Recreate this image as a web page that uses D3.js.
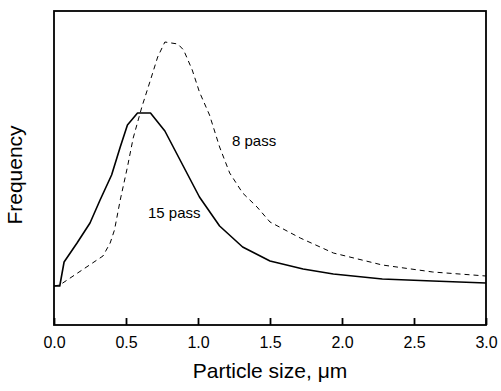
<!DOCTYPE html>
<html><head><meta charset="utf-8">
<script src="https://cdn.jsdelivr.net/npm/d3@7"></script>
<style>body{margin:0;background:#fff}svg{display:block}text{font-family:"Liberation Sans",Arial,sans-serif;fill:#000}</style>
</head><body>
<svg id="c" width="501" height="391"></svg>
<script>
// Particle size (µm) and frequency (arbitrary units)
const size15 = [0, 0.04, 0.07, 0.16, 0.25, 0.32, 0.40, 0.46, 0.51, 0.58, 0.67, 0.77, 1.01, 1.15, 1.31, 1.50, 1.73, 1.94, 2.28, 2.63, 3.0];
const freq15 = [39, 39, 63, 82, 102, 125, 150, 178, 200, 212, 212, 194, 128, 99, 78, 64, 56, 51, 46, 44, 42];
const size8 = [0, 0.04, 0.34, 0.39, 0.42, 0.46, 0.51, 0.55, 0.61, 0.67, 0.72, 0.77, 0.86, 0.90, 0.96, 1.01, 1.08, 1.15, 1.22, 1.31, 1.41, 1.50, 1.71, 1.94, 2.28, 2.63, 3.0];
const freq8 = [39, 40, 69, 82, 95, 125, 158, 187, 218, 245, 268, 283, 281, 275, 255, 233, 210, 178, 152, 132, 118, 103, 87, 72, 60, 53, 49];
const xTicks = [0, 0.5, 1.0, 1.5, 2.0, 2.5, 3.0];
const seriesLabels = ["15 pass", "8 pass"];

const svg = d3.select("#c");
const L = 54, R = 486, T = 11, B = 325;
const x = d3.scaleLinear().domain([0, 3]).range([L, R]);
const y = d3.scaleLinear().domain([0, 314]).range([B, T]);

const line = d3.line().x(d => x(d[0])).y(d => y(d[1]));
const d15 = size15.map((s, i) => [s, freq15[i]]);
const d8 = size8.map((s, i) => [s, freq8[i]]);

svg.append("path").datum(d8).attr("d", line)
  .attr("fill", "none").attr("stroke", "#000").attr("stroke-width", 1)
  .attr("stroke-dasharray", "5,4");
svg.append("path").datum(d15).attr("d", line)
  .attr("fill", "none").attr("stroke", "#000").attr("stroke-width", 1.6)
  .attr("stroke-linejoin", "round");

// frame
svg.append("rect").attr("x", L).attr("y", T).attr("width", R - L).attr("height", B - T)
  .attr("fill", "none").attr("stroke", "#000").attr("stroke-width", 1.8);

// x axis
const ax = d3.axisBottom(x).tickValues(xTicks).tickFormat(d3.format(".1f"))
  .tickSizeInner(-7).tickSizeOuter(0).tickPadding(12);
const g = svg.append("g").attr("transform", `translate(0,${B})`).call(ax);
g.select(".domain").remove();
g.selectAll(".tick line").attr("stroke", "#000").attr("stroke-width", 1.8);
g.selectAll(".tick text").attr("font-size", 16).attr("font-family", "Liberation Sans, Arial, sans-serif").attr("fill", "#000");

// titles
svg.append("text").attr("x", (L + R) / 2).attr("y", 378).attr("text-anchor", "middle")
  .attr("font-size", 21).text("Particle size, \u03bcm");
svg.append("text").attr("transform", `translate(22,${(T + B) / 2 + 7}) rotate(-90)`)
  .attr("text-anchor", "middle").attr("font-size", 21).text("Frequency");

// labels
svg.append("text").attr("x", 148).attr("y", 218).attr("font-size", 15).text(seriesLabels[0]);
svg.append("text").attr("x", 232).attr("y", 146).attr("font-size", 15).text(seriesLabels[1]);
</script>
</body></html>
